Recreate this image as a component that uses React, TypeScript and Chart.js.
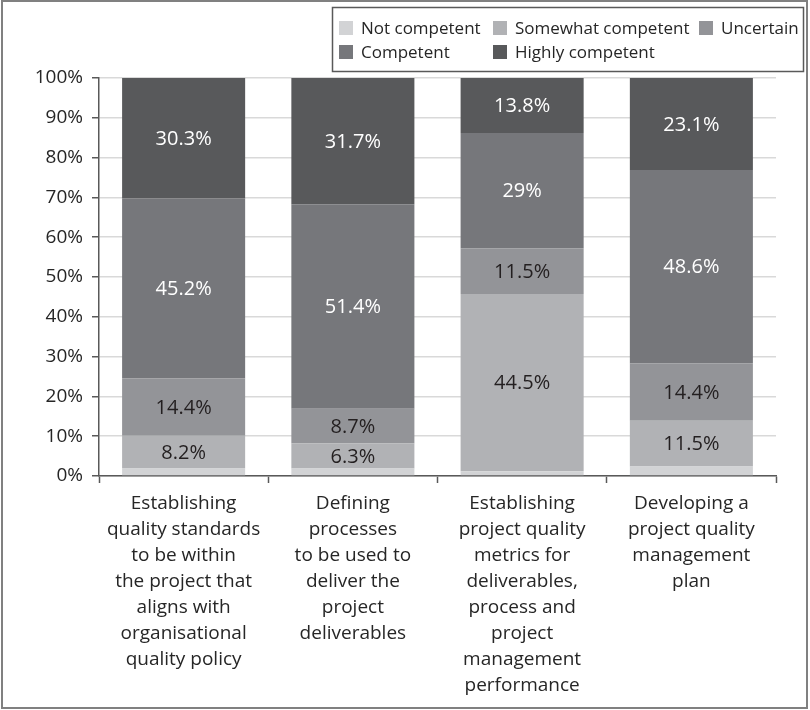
import React, { useEffect, useRef } from "react";
import { Chart, registerables } from "chart.js";

Chart.register(...registerables);

const categories: string[][] = [
  ["Establishing", "quality standards", "to be within", "the project that", "aligns with", "organisational", "quality policy"],
  ["Defining", "processes", "to be used to", "deliver the", "project", "deliverables"],
  ["Establishing", "project quality", "metrics for", "deliverables,", "process and", "project", "management", "performance"],
  ["Developing a", "project quality", "management", "plan"],
];

const seriesNames = ["Not competent", "Somewhat competent", "Uncertain", "Competent", "Highly competent"];
const notCompetent = [1.9, 1.9, 1.2, 2.4];
const somewhatCompetent = [8.2, 6.3, 44.5, 11.5];
const uncertain = [14.4, 8.7, 11.5, 14.4];
const competent = [45.2, 51.4, 29, 48.6];
const highlyCompetent = [30.3, 31.7, 13.8, 23.1];
const yTicks = [0, 10, 20, 30, 40, 50, 60, 70, 80, 90, 100];

const seriesColors = ["#d2d3d5", "#b1b2b5", "#939498", "#76777b", "#58595b"];
const labelColors = [null, "#231f20", "#231f20", "#ffffff", "#ffffff"];
const FONT = "'Open Sans', sans-serif";

const decorPlugin = {
  id: "decor",
  afterDatasetsDraw(chart: any) {
    const ctx = chart.ctx;
    ctx.save();
    ctx.font = `20px ${FONT}`;
    ctx.textAlign = "center";
    ctx.textBaseline = "middle";
    chart.data.datasets.forEach((ds: any, i: number) => {
      const color = labelColors[i];
      if (!color) return;
      const meta = chart.getDatasetMeta(i);
      meta.data.forEach((bar: any, j: number) => {
        const v = ds.data[j];
        const cy = (bar.y + bar.base) / 2;
        ctx.fillStyle = color;
        ctx.fillText(String(v) + "%", bar.x, cy + 1);
      });
    });
    ctx.restore();
  },
  afterDraw(chart: any) {
    const ctx = chart.ctx;
    ctx.save();
    // outer frame
    ctx.strokeStyle = "#808080";
    ctx.lineWidth = 2;
    ctx.strokeRect(2, 1, 805, 707);
    // legend box
    ctx.strokeStyle = "#595959";
    ctx.lineWidth = 1.5;
    ctx.strokeRect(332.5, 7.5, 471, 64);
    const pos = [
      [339, 28],
      [493, 28],
      [699, 28],
      [339, 52],
      [493, 52],
    ];
    ctx.font = `17px ${FONT}`;
    ctx.textAlign = "left";
    ctx.textBaseline = "middle";
    chart.data.datasets.forEach((ds: any, i: number) => {
      const [x, y] = pos[i];
      ctx.fillStyle = ds.backgroundColor;
      ctx.fillRect(x, y - 7, 14, 14);
      ctx.fillStyle = "#262626";
      ctx.fillText(ds.label, x + 22, y + 1);
    });
    ctx.restore();
  },
};

export default function App() {
  const canvasRef = useRef<HTMLCanvasElement | null>(null);

  useEffect(() => {
    document.body.style.margin = "0";
    const canvas = canvasRef.current;
    if (!canvas) return;
    const seriesData = [notCompetent, somewhatCompetent, uncertain, competent, highlyCompetent];
    const chart = new Chart(canvas, {
      type: "bar",
      data: {
        labels: categories,
        datasets: seriesNames.map((name, i) => ({
          label: name,
          data: seriesData[i],
          backgroundColor: seriesColors[i],
          borderWidth: 0,
          categoryPercentage: 1,
          barPercentage: 0.727,
        })),
      },
      options: {
        responsive: false,
        animation: false,
        devicePixelRatio: 1,
        layout: { padding: { top: 78, right: 34, left: 0, bottom: 0 } },
        plugins: {
          legend: { display: false },
          tooltip: { enabled: false },
        },
        scales: {
          x: {
            stacked: true,
            offset: true,
            afterFit: (s: any) => {
              s.height = 234;
            },
            grid: {
              display: true,
              drawOnChartArea: false,
              drawTicks: true,
              tickLength: 7,
              tickColor: "#595959",
              tickWidth: 1.5,
              offset: true,
            },
            border: { display: true, color: "#595959", width: 1.5 },
            ticks: {
              autoSkip: false,
              maxRotation: 0,
              minRotation: 0,
              padding: 8,
              color: "#262626",
              font: { family: FONT, size: 19, lineHeight: "26px" as any },
            },
          },
          y: {
            stacked: true,
            min: 0,
            max: 100,
            afterFit: (s: any) => {
              s.width = 99;
            },
            afterBuildTicks: (s: any) => {
              s.ticks = yTicks.map((v) => ({ value: v }));
            },
            grid: {
              color: "#d9d9d9",
              lineWidth: 1.5,
              drawTicks: true,
              tickLength: 7,
              tickColor: "#595959",
              tickWidth: 1.5,
            },
            border: { display: true, color: "#595959", width: 1.5 },
            ticks: {
              padding: 9,
              color: "#262626",
              font: { family: FONT, size: 19 },
              callback: (v: any) => v + "%",
            },
          },
        },
      },
      plugins: [decorPlugin],
    });
    return () => chart.destroy();
  }, []);

  return (
    <div style={{ width: 810, height: 710 }}>
      <canvas ref={canvasRef} width={810} height={710} style={{ display: "block" }} />
    </div>
  );
}
